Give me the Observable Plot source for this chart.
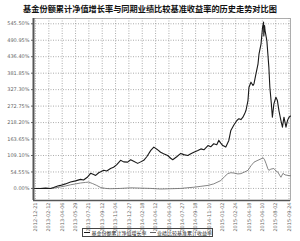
<!DOCTYPE html>
<html><head><meta charset="utf-8">
<script src="https://cdn.jsdelivr.net/npm/d3@7"></script>
<script src="https://cdn.jsdelivr.net/npm/@observablehq/plot@0.6"></script>
<style>
body{margin:0;background:#fff;}
#wrap{position:relative;width:300px;height:241px;overflow:hidden;font-family:"Noto Sans CJK SC",sans-serif;}
#chart{position:absolute;left:0;top:0;}
#title{position:absolute;left:0;top:3px;width:300px;text-align:center;font-size:8.2px;font-weight:bold;line-height:10px;color:#111;white-space:nowrap;}
#legend{position:absolute;left:82px;top:228px;width:129px;height:7px;border:1px solid #444;font-size:5px;line-height:7px;color:#222;white-space:nowrap;display:flex;align-items:center;}
.sw{display:inline-block;width:9px;height:0;margin:0 1px 0 1px;}
</style>
</head><body>
<div id="wrap">
<div id="chart"></div>
<div id="title"></div>
<div id="legend"></div>
</div>
<script>
const titleText = "基金份额累计净值增长率与同期业绩比较基准收益率的历史走势对比图";
const seriesNames = ["基金份额累计净值增长率", "业绩比较基准累计收益率"];
const seriesColors = ["#1a1a1a", "#666666"];
const domainDates = ["2012-12-13", "2015-09-30"];
const xTickLabels = ["2012-12-21","2013-02-12","2013-04-06","2013-05-29","2013-07-21","2013-09-12","2013-11-04","2013-12-27","2014-02-18","2014-04-12","2014-06-04","2014-07-27","2014-09-18","2014-11-10","2015-01-02","2015-02-24","2015-04-18","2015-06-10","2015-08-02","2015-09-24"];
const yTicks = [0, 54.55, 109.10, 163.65, 218.20, 272.75, 327.30, 381.85, 436.40, 490.95, 545.50];

const fundDates = ["2012-12-13","2013-01-10","2013-01-30","2013-02-19","2013-03-03","2013-03-19","2013-03-30","2013-04-19","2013-05-09","2013-05-29","2013-06-18","2013-06-30","2013-07-16","2013-07-28","2013-08-09","2013-08-17","2013-08-29","2013-09-06","2013-09-18","2013-09-30","2013-10-15","2013-10-27","2013-11-08","2013-11-24","2013-12-06","2013-12-22","2014-01-03","2014-01-15","2014-01-31","2014-02-12","2014-02-24","2014-03-08","2014-03-24","2014-04-05","2014-04-17","2014-05-02","2014-05-14","2014-05-30","2014-06-11","2014-06-19","2014-07-05","2014-07-21","2014-08-02","2014-08-18","2014-08-30","2014-09-11","2014-09-27","2014-10-09","2014-10-21","2014-11-06","2014-11-17","2014-11-29","2014-12-11","2014-12-19","2014-12-27","2015-01-04","2015-01-16","2015-01-28","2015-02-05","2015-02-17","2015-03-01","2015-03-09","2015-03-17","2015-03-25","2015-04-02","2015-04-06","2015-04-14","2015-04-18","2015-04-26","2015-05-04","2015-05-08","2015-05-16","2015-05-24","2015-05-28","2015-06-05","2015-06-11","2015-06-15","2015-06-16","2015-06-19","2015-06-21","2015-06-28","2015-07-02","2015-07-06","2015-07-10","2015-07-16","2015-07-20","2015-07-26","2015-08-03","2015-08-09","2015-08-15","2015-08-23","2015-08-29","2015-09-04","2015-09-12","2015-09-18","2015-09-24","2015-09-30"];
const fundValues = [0,0,1,0,3,8,10,15,21,25,30,28,38,50,46,43,52,55,60,58,66,70,78,93,88,87,95,90,83,88,93,105,126,137,130,120,115,109,100,95,105,116,112,109,115,120,126,131,128,142,138,148,145,159,150,142,137,159,192,210,225,231,228,236,250,258,291,335,352,341,347,380,413,446,479,534,551,505,540,523,490,446,402,335,280,236,280,302,291,258,225,203,236,203,225,236,240];

const benchDates = ["2012-12-13","2013-02-19","2013-03-11","2013-03-30","2013-04-19","2013-05-09","2013-05-29","2013-06-18","2013-07-08","2013-07-20","2013-08-05","2013-08-21","2013-09-06","2013-09-26","2013-10-15","2013-11-24","2014-01-03","2014-02-12","2014-03-24","2014-05-02","2014-06-11","2014-07-21","2014-08-14","2014-09-11","2014-10-09","2014-11-06","2014-11-29","2014-12-27","2015-01-12","2015-01-24","2015-02-05","2015-02-17","2015-03-05","2015-03-17","2015-04-02","2015-04-14","2015-04-26","2015-05-08","2015-05-20","2015-06-05","2015-06-13","2015-06-19","2015-06-25","2015-07-02","2015-07-06","2015-07-14","2015-07-26","2015-08-03","2015-08-11","2015-08-19","2015-08-23","2015-08-31","2015-09-08","2015-09-20","2015-09-30"];
const benchValues = [0,0,2,5,8,12,15,18,20,21,16,10,3,0,-1,0,2,1,0,-2,-1,0,2,4,7,10,15,26,40,49,52,51,48,49,55,60,75,87,92,98,102,95,82,65,60,64,66,58,54,42,37,50,45,43,42];

const parse = s => new Date(s + "T00:00:00Z");
const fund = fundDates.map((d, i) => ({date: parse(d), v: fundValues[i]}));
const bench = benchDates.map((d, i) => ({date: parse(d), v: benchValues[i]}));
const xTicks = xTickLabels.map(parse);
const fmt = d3.utcFormat("%Y-%m-%d");
const yMin = -40, yMax = 563;

const chart = Plot.plot({
  width: 300, height: 241,
  marginTop: 18, marginBottom: 41, marginLeft: 33, marginRight: 10,
  style: {fontFamily: "'DejaVu Sans', sans-serif", fontSize: "5px", color: "#666", background: "transparent"},
  x: {type: "time", domain: domainDates.map(parse), ticks: xTicks, tickFormat: fmt, tickRotate: -90, tickSize: 0, tickPadding: 2, label: null},
  y: {domain: [yMin, yMax], ticks: yTicks, tickFormat: d => d.toFixed(2) + "%", tickSize: 2, tickPadding: 2, label: null},
  marks: [
    Plot.gridX(xTicks, {stroke: "#888", strokeOpacity: 1, strokeDasharray: "1,1.5", strokeWidth: 0.7}),
    Plot.gridY(yTicks, {stroke: "#888", strokeOpacity: 1, strokeDasharray: "1,1.5", strokeWidth: 0.7}),
    Plot.frame({stroke: "#999", strokeWidth: 0.8}),
    Plot.line(bench, {x: "date", y: "v", stroke: seriesColors[1], strokeWidth: 0.8}),
    Plot.line(fund, {x: "date", y: "v", stroke: seriesColors[0], strokeWidth: 1.1}),
    Plot.ruleX([parse(domainDates[0])], {stroke: "#555", strokeWidth: 2}),
    Plot.ruleY([yMin], {stroke: "#555", strokeWidth: 1.5})
  ]
});
document.getElementById("chart").appendChild(chart);
document.getElementById("title").textContent = titleText;
const lg = document.getElementById("legend");
seriesNames.forEach((n, i) => {
  const sw = document.createElement("span");
  sw.className = "sw";
  sw.style.borderTop = (i === 0 ? "1.2px" : "0.8px") + " solid " + seriesColors[i];
  sw.style.marginLeft = i === 0 ? "1px" : "3px";
  lg.appendChild(sw);
  const t = document.createElement("span");
  t.textContent = n;
  lg.appendChild(t);
});
</script>
</body></html>
